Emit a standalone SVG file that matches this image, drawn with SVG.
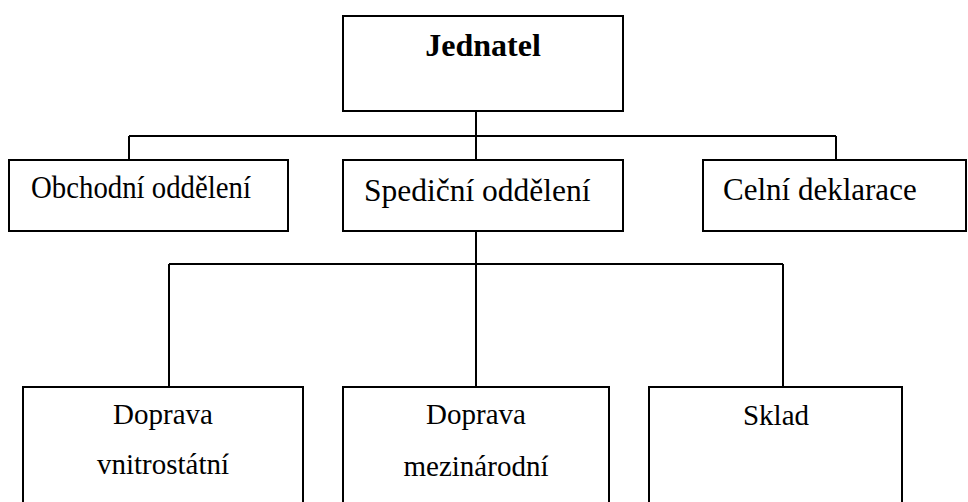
<svg xmlns="http://www.w3.org/2000/svg" width="968" height="502" viewBox="0 0 968 502">
<style>
.box{fill:#fff;stroke:#000;stroke-width:2}
.ln{fill:none;stroke:#000;stroke-width:2}
text{font-family:"Liberation Serif","Times New Roman",serif;fill:#000}
.c{text-anchor:middle}
</style>
<rect width="968" height="502" fill="#fff"/>
<g id="connectors">
<path class="ln" d="M476 111V160M129 136H836M129 136V160M836 136V160"/>
<path class="ln" d="M476 231V387M169 264H783M169 264V387M783 264V387"/>
</g>
<g id="jednatel">
<rect class="box" x="343" y="16" width="280" height="95"/>
<text class="c" x="483" y="56" font-size="32" font-weight="bold">Jednatel</text>
</g>
<g id="obchodni">
<rect class="box" x="9" y="160" width="279" height="71"/>
<text x="31" y="198" font-size="31" textLength="220" lengthAdjust="spacingAndGlyphs">Obchodní oddělení</text>
</g>
<g id="spedicni">
<rect class="box" x="343" y="160" width="280" height="71"/>
<text x="364" y="201" font-size="31.5">Spediční oddělení</text>
</g>
<g id="celni">
<rect class="box" x="703" y="160" width="263" height="71"/>
<text x="723" y="200" font-size="31">Celní deklarace</text>
</g>
<g id="vnitrostatni">
<rect class="box" x="23" y="387" width="280" height="130"/>
<text class="c" x="163" y="424" font-size="29">Doprava</text>
<text class="c" x="163" y="474" font-size="29">vnitrostátní</text>
</g>
<g id="mezinarodni">
<rect class="box" x="343" y="387" width="266" height="130"/>
<text class="c" x="476" y="424" font-size="29">Doprava</text>
<text class="c" x="476" y="476" font-size="29">mezinárodní</text>
</g>
<g id="sklad">
<rect class="box" x="649" y="387" width="253" height="130"/>
<text class="c" x="776" y="425" font-size="29">Sklad</text>
</g>
</svg>
